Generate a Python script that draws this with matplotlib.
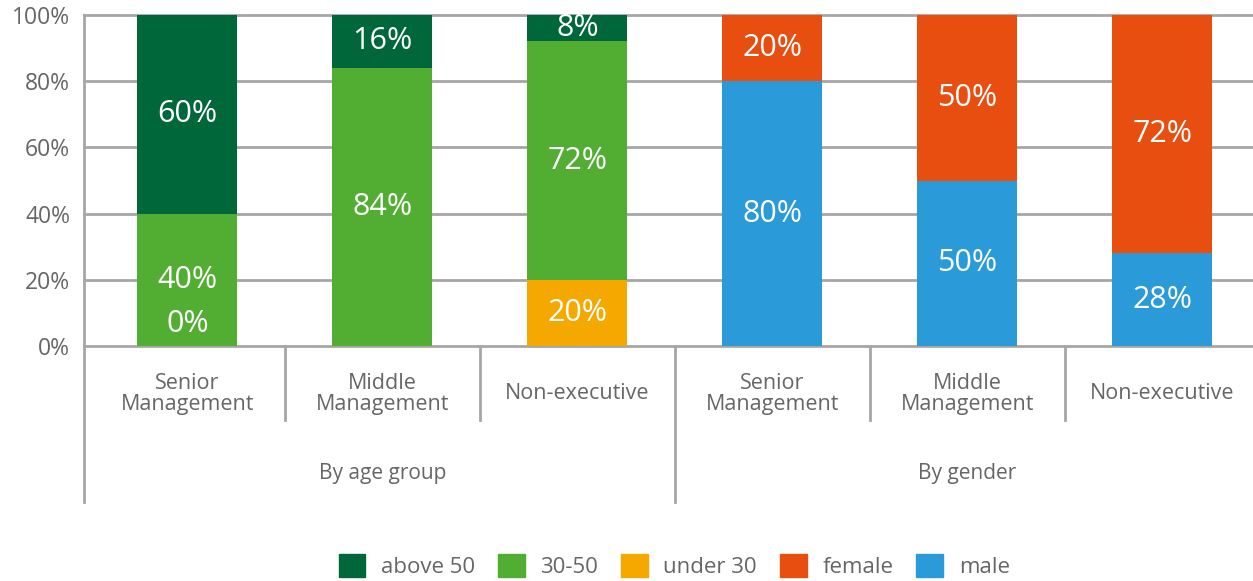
# Workforce composition: stacked 100% bars by age group and by gender

# Libraries
import matplotlib
matplotlib.use("Agg")
import matplotlib.pyplot as plt
from matplotlib.patches import Patch
import numpy as np

# Data (nan = no value reported)
categories = ["Senior\nManagement", "Middle\nManagement", "Non-executive"]
groups = ["By age group", "By gender"]
under_30 = [0, np.nan, 20]
age_30_50 = [40, 84, 72]
above_50 = [60, 16, 8]
male = [80, 50, 28]
female = [20, 50, 72]
y_ticks = [0, 20, 40, 60, 80, 100]

# Colours
C_ABOVE50 = "#00673a"
C_3050 = "#52ae32"
C_UNDER30 = "#f5a800"
C_FEMALE = "#e84e10"
C_MALE = "#2a9ad8"
GRID = "#a6a6a6"
TEXT = "#666666"

FONT = "Open Sans"


# Put a white value label in the middle of each segment
def label_segments(ax, xs, bottoms, heights):
    for x, b, h in zip(xs, bottoms, heights):
        if np.isnan(h):
            continue
        if h == 0:
            ax.annotate("{:.0f}%".format(h), (x, b), xytext=(0, 16), textcoords="offset points",
                        ha="center", va="center", color="white", fontsize=22, family=FONT)
        else:
            ax.text(x, b + h / 2, "{:.0f}%".format(h), ha="center", va="center",
                    color="white", fontsize=22, family=FONT)


# Main function
def main():
    fig = plt.figure(figsize=(12.53, 5.81), dpi=100)
    ax = fig.add_axes([84 / 1253, 235 / 581, 1169 / 1253, 331 / 581])

    bw = 0.513
    xa = [0, 1, 2]
    xg = [3, 4, 5]

    # Age group bars
    u30 = np.nan_to_num(under_30)
    b2 = u30 + np.array(age_30_50)
    ax.bar(xa, u30, bw, color=C_UNDER30, zorder=3)
    ax.bar(xa, age_30_50, bw, bottom=u30, color=C_3050, zorder=3)
    ax.bar(xa, above_50, bw, bottom=b2, color=C_ABOVE50, zorder=3)
    label_segments(ax, xa, [0, 0, 0], under_30)
    label_segments(ax, xa, u30, age_30_50)
    label_segments(ax, xa, b2, above_50)

    # Gender bars
    ax.bar(xg, male, bw, color=C_MALE, zorder=3)
    ax.bar(xg, female, bw, bottom=male, color=C_FEMALE, zorder=3)
    label_segments(ax, xg, [0, 0, 0], male)
    label_segments(ax, xg, male, female)

    x0, x1 = -0.53, 5.465
    ax.set_xlim(x0, x1)
    ax.set_ylim(0, 100)
    ax.set_yticks(y_ticks)
    ax.set_yticklabels(["{}%".format(t) for t in y_ticks], color=TEXT, fontsize=16.5, family=FONT)
    ax.tick_params(axis="y", length=0, pad=10)
    ax.set_xticks([])
    for t in y_ticks:
        ax.axhline(t, color=GRID, lw=2, zorder=1, clip_on=False)
    for s in ["top", "right", "bottom"]:
        ax.spines[s].set_visible(False)
    ax.spines["left"].set_color(GRID)
    ax.spines["left"].set_linewidth(2)

    # Two level category axis underneath
    tr = ax.get_xaxis_transform()
    for sx in [0.5, 1.5, 3.5, 4.5]:
        ax.plot([sx, sx], [0, -0.225], color=GRID, lw=2, transform=tr, clip_on=False)
    for sx in [x0, 2.5]:
        ax.plot([sx, sx], [0, -0.47], color=GRID, lw=2, transform=tr, clip_on=False)
    for i, cat in enumerate(categories * 2):
        ax.text(i, -0.145, cat, transform=tr, ha="center", va="center", color=TEXT,
                fontsize=15.5, family=FONT, linespacing=0.98)
    for i, g in enumerate(groups):
        ax.text(1 + 3 * i, -0.385, g, transform=tr, ha="center", va="center", color=TEXT,
                fontsize=15, family=FONT)

    # Legend
    handles = [Patch(color=c, label=l) for c, l in
               [(C_ABOVE50, "above 50"), (C_3050, "30-50"), (C_UNDER30, "under 30"),
                (C_FEMALE, "female"), (C_MALE, "male")]]
    leg = fig.legend(handles=handles, loc="center", bbox_to_anchor=(0.538, 0.026), ncol=5,
                     frameon=False, handlelength=1.2, handleheight=1.2, handletextpad=0.7,
                     columnspacing=1.04, prop={"family": FONT, "size": 16})
    for t in leg.get_texts():
        t.set_color(TEXT)

    fig.savefig("out.png", dpi=100)


# driver function
if __name__ == "__main__":
    main()
